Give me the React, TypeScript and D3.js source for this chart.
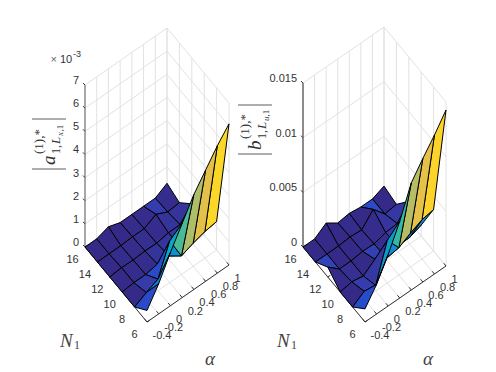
import { useEffect, useRef } from "react";
import * as d3 from "d3";

const alphas = [-0.4, -0.2, 0, 0.2, 0.4, 0.6, 0.8, 1];
const alphaLabels = ["-0.4", "-0.2", "0", "0.2", "0.4", "0.6", "0.8", "1"];
const ns = [16, 14, 12, 10, 8, 6];

// values in units of 1e-3, rows follow ns, columns follow alphas
const leftZ = [
  [0, 0, 0.17, 0, 0, 0, 0, 0.29],
  [0, 0, 0, 0.03, 0.03, 0.3, 0.05, 0.1],
  [0, 0.05, 0.03, 0.07, 0.05, 0.15, 0.15, 0.7],
  [0, 0.05, 0.05, 0.15, 0.15, 0.2, 0.2, 0.3],
  [0, 0.27, 0.5, 1.8, 0.8, 1.0, 1.15, 1.23],
  [0.5, 1.3, 2.3, 3.2, 4.1, 4.8, 5.5, 6.1],
];
const rightZ = [
  [0, 0, 0.73, 0, 0.15, 0, 0, 0.45],
  [0, 0, 0, 0.1, 0, 1.15, 0, 0.15],
  [0.9, 0, 0, 0.15, 0.1, 0.4, 0.5, 1.8],
  [0, 0.2, 0, 0.8, 0.15, 0.6, 0.6, 1.0],
  [0, 0.7, 0.5, 3.9, 2.5, 3.1, 3.6, 3.8],
  [1.2, 2.7, 4.7, 7.0, 9.8, 11.3, 12.7, 14.27],
];
const leftTicks = [0, 1, 2, 3, 4, 5, 6, 7];
const leftTickLabels = ["0", "1", "2", "3", "4", "5", "6", "7"];
const rightTicks = [0, 5, 10, 15];
const rightTickLabels = ["0", "0.005", "0.01", "0.015"];

const parulaStops = [0, 0.048, 0.08, 0.11, 0.127, 0.25, 0.375, 0.5, 0.625, 0.75, 0.875, 1];
const parula = ["#352a87", "#353dad", "#2b4ac7", "#0f5bdd", "#0363e1", "#1485d4", "#06a7c6", "#38b99e", "#92bf73", "#d9ba56", "#fcce2e", "#f9fb0e"];

const SANS = "Liberation Sans, Arial, sans-serif";
const SERIF = "Liberation Serif, DejaVu Serif, serif";
const TXT = "#333333";

function drawPlot(svg: any, opts: any) {
  const { left, front, right, zTop, z, ticks, tickLabels, zMax, letter, sub, bars, labelX, nLabel, aLabel, axisColor } = opts;
  const g = svg.append("g");
  const alphaT = d3.scaleLinear().domain([-0.4, 1]).range([0, 1]);
  const nT = d3.scaleLinear().domain([16, 6]).range([0, 1]);
  const zY = d3.scaleLinear().domain([0, zMax]).range([0, left[1] - zTop]);
  const ax = [right[0] - front[0], right[1] - front[1]];
  const nx = [front[0] - left[0], front[1] - left[1]];
  const project = (a: number, n: number, v: number): [number, number] => [
    left[0] + alphaT(a) * ax[0] + nT(n) * nx[0],
    left[1] + alphaT(a) * ax[1] + nT(n) * nx[1] - zY(v),
  ];
  const line = d3.line();
  const seg = (pts: [number, number][], stroke: string, w: number) =>
    g.append("path").attr("d", line(pts)).attr("fill", "none").attr("stroke", stroke).attr("stroke-width", w);

  const grid = "#e2e2e2";
  const zHi = zMax;
  alphas.forEach((a) => {
    seg([project(a, 16, 0), project(a, 6, 0)], grid, 1);
    seg([project(a, 16, 0), project(a, 16, zHi)], grid, 1);
  });
  ns.forEach((n) => {
    seg([project(-0.4, n, 0), project(1, n, 0)], grid, 1);
    seg([project(1, n, 0), project(1, n, zHi)], grid, 1);
  });
  ticks.forEach((t: number) => {
    seg([project(-0.4, 16, t), project(1, 16, t), project(1, 6, t)], grid, 1);
  });

  // axes
  seg([project(-0.4, 16, 0), project(-0.4, 16, zHi)], axisColor, 1.3);
  seg([project(-0.4, 16, 0), project(-0.4, 6, 0)], TXT, 1);
  seg([project(-0.4, 6, 0), project(1, 6, 0)], TXT, 1);
  ticks.forEach((t: number, i: number) => {
    const p = project(-0.4, 16, t);
    seg([p, [p[0] - 2, p[1] - 2]], TXT, 1);
    g.append("text").attr("x", p[0] - 6).attr("y", p[1] - 5).attr("dy", "0.36em").attr("text-anchor", "end")
      .attr("font-family", SANS).attr("font-size", 11).attr("fill", TXT).text(tickLabels[i]);
  });
  ns.forEach((n) => {
    const p = project(-0.4, n, 0);
    seg([p, [p[0] + 2.4, p[1] - 1.7]], TXT, 1);
    g.append("text").attr("x", p[0] - 12.5).attr("y", p[1] + 12).attr("dy", "0.36em").attr("text-anchor", "middle")
      .attr("font-family", SANS).attr("font-size", 11).attr("fill", TXT).text(n);
  });
  alphas.forEach((a, i) => {
    const p = project(a, 6, 0);
    seg([p, [p[0] - 2.2, p[1] - 2.7]], TXT, 1);
    g.append("text").attr("x", p[0] + 5.5).attr("y", p[1] + 13).attr("dy", "0.36em").attr("text-anchor", "start")
      .attr("font-family", SANS).attr("font-size", 11).attr("fill", TXT).text(alphaLabels[i]);
  });

  // surface, back to front
  const cMax = d3.max(z.flat() as number[]) as number;
  const color = d3.scaleLinear<string>().domain(parulaStops.map((s) => s * cMax)).range(parula);
  const cells: { i: number; j: number }[] = [];
  for (let j = 0; j < ns.length - 1; j++) for (let i = 0; i < alphas.length - 1; i++) cells.push({ i, j });
  cells.sort((p, q) => p.j - p.i - (q.j - q.i));
  g.selectAll("path.cell").data(cells).join("path").attr("class", "cell")
    .attr("d", (c: any) => {
      const { i, j } = c;
      return line([
        project(alphas[i], ns[j], z[j][i]),
        project(alphas[i + 1], ns[j], z[j][i + 1]),
        project(alphas[i + 1], ns[j + 1], z[j + 1][i + 1]),
        project(alphas[i], ns[j + 1], z[j + 1][i]),
      ]) + "Z";
    })
    .attr("fill", (c: any) => color(z[c.j + 1][c.i]))
    .attr("stroke", "#000").attr("stroke-width", 1).attr("stroke-linejoin", "round");

  // z label, rotated
  const lab = g.append("g").attr("transform", `translate(${labelX},${bars[1]}) rotate(-90)`);
  const math = (x: number, y: number, s: number, t: string, italic = true) =>
    lab.append("text").attr("x", x).attr("y", y).attr("font-family", SERIF).attr("font-size", s)
      .attr("font-style", italic ? "italic" : "normal").attr("fill", TXT).text(t);
  const h = bars[1] - bars[0];
  [0, h].forEach((x) => {
    lab.append("line").attr("x1", x).attr("x2", x).attr("y1", -17).attr("y2", 17).attr("stroke", TXT).attr("stroke-width", 0.8);
  });
  math(4, 6, 19, letter);
  math(15, -6, 13, "(1),*", false);
  math(15, 11, 12, "1,", false);
  math(25, 11, 13, "L");
  math(33, 14, 9, sub);
  math(37.5, 14, 9, ",1", false);

  g.append("text").attr("x", nLabel[0]).attr("y", nLabel[1]).attr("font-family", SERIF).attr("font-size", 19).attr("font-style", "italic").attr("fill", "#444").text("N");
  g.append("text").attr("x", nLabel[0] + 14).attr("y", nLabel[1] + 2).attr("font-family", SERIF).attr("font-size", 12).attr("fill", "#444").text("1");
  g.append("text").attr("x", aLabel[0]).attr("y", aLabel[1]).attr("font-family", SERIF).attr("font-size", 19).attr("font-style", "italic").attr("fill", "#444").text("α");
}

export default function App() {
  const svgRef = useRef<SVGSVGElement>(null);
  useEffect(() => {
    const svg = d3.select(svgRef.current);
    svg.selectAll("*").remove();
    drawPlot(svg, {
      left: [85, 247], front: [147, 322], right: [229, 265], zTop: 85, z: leftZ, ticks: leftTicks,
      tickLabels: leftTickLabels, zMax: 7, letter: "a", sub: "x", bars: [119, 169], labelX: 49,
      nLabel: [60, 347], aLabel: [205, 365], axisColor: "#808080",
    });
    drawPlot(svg, {
      left: [303, 247], front: [365, 322], right: [446, 266], zTop: 83, z: rightZ, ticks: rightTicks,
      tickLabels: rightTickLabels, zMax: 15, letter: "b", sub: "u", bars: [105, 154], labelX: 255,
      nLabel: [277, 347], aLabel: [423, 365], axisColor: "#555555",
    });
    const note = svg.append("g").attr("font-family", SANS).attr("fill", TXT);
    note.append("text").attr("x", 50.5).attr("y", 63).attr("font-size", 11).attr("fill", "#666").text("×");
    note.append("text").attr("x", 60).attr("y", 63).attr("font-size", 11).text("10");
    note.append("text").attr("x", 73).attr("y", 57).attr("font-size", 9).text("-3");
  }, []);
  return <svg ref={svgRef} width={496} height={372} style={{ position: "absolute", left: 0, top: 0, background: "#fff" }} />;
}
